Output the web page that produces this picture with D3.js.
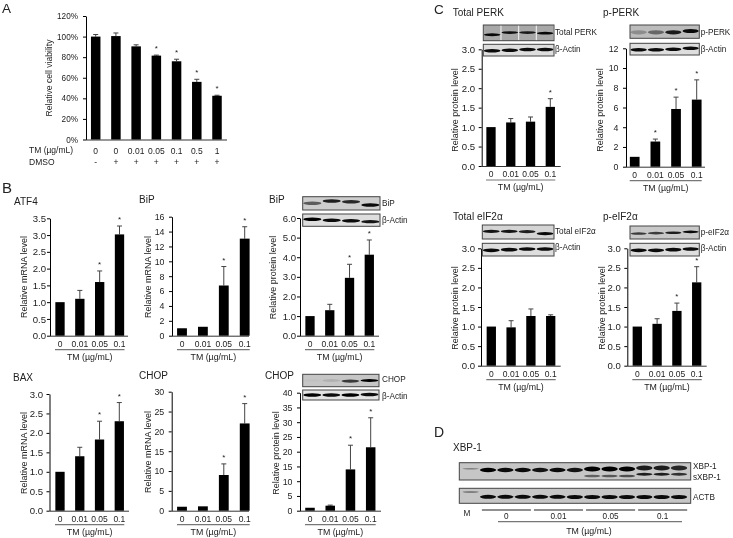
<!DOCTYPE html>
<html><head><meta charset="utf-8">
<script src="https://cdn.jsdelivr.net/npm/d3@7/dist/d3.min.js"></script>
<style>
html,body{margin:0;padding:0;background:#fff}
svg{display:block;filter:blur(0.35px)}
text{font-family:"Liberation Sans",Arial,sans-serif;fill:#222}
</style></head><body><svg id="c" width="733" height="538"></svg>
<script>
// ---- categories / ticks
const doseLabels = ["0","0.01","0.05","0.1"];
const viabilityLabels = ["0","0","0.01","0.05","0.1","0.5","1"];
const dmsoLabels = ["-","+","+","+","+","+","+"];
const pctTicks = [0,20,40,60,80,100,120];
const ticksAtf4 = [0,0.5,1,1.5,2,2.5,3,3.5];
const ticks16 = [0,2,4,6,8,10,12,14,16];
const ticks6 = [0,1,2,3,4,5,6];
const ticks3 = [0,0.5,1,1.5,2,2.5,3];
const ticks30 = [0,5,10,15,20,25,30];
const ticks40 = [0,5,10,15,20,25,30,35,40];
const ticks12 = [0,2,4,6,8,10,12];
// ---- values (bar, top of error bar)
const viabilityVal = [100,100.5,90.5,81.5,76,56,42.5];
const viabilityErr = [102,103.5,92,82,78,58.5,43];
const atf4Val = [1,1.1,1.6,3.02];        const atf4Err = [1,1.35,1.93,3.27];
const bipMVal = [1,1.2,6.75,13.05];      const bipMErr = [1,1.2,9.3,14.65];
const bipPVal = [1,1.3,2.95,4.13];       const bipPErr = [1,1.6,3.64,4.88];
const baxVal = [1,1.4,1.83,2.3];         const baxErr = [1,1.63,2.3,2.78];
const chopMVal = [1,1.1,9,22];           const chopMErr = [1,1.1,11.8,27];
const chopPVal = [1,1.7,14,21.5];        const chopPErr = [1,1.9,22.2,31.5];
const perkVal = [1,1.12,1.14,1.52];      const perkErr = [1,1.22,1.26,1.73];
const pPerkVal = [1,2.55,5.85,6.8];      const pPerkErr = [1,2.8,7.05,8.8];
const eifVal = [1,0.98,1.27,1.27];       const eifErr = [1,1.15,1.45,1.3];
const pEifVal = [1,1.07,1.4,2.13];       const pEifErr = [1,1.2,1.6,2.53];
// ---- blot band strengths per lane
const bipBlot = [0.55,0.85,0.8,0.95];    const bipActin = [1,0.95,0.95,0.9];
const chopBlot = [0.02,0.1,0.7,1];       const chopActin = [1,0.95,1,0.95];
const perkBlot = [0.95,0.9,0.85,0.95];   const perkActin = [0.95,0.95,0.95,0.95];
const pPerkBlot = [0.25,0.45,0.85,0.95]; const pPerkActin = [0.95,0.95,0.95,0.95];
const eifBlot = [0.9,0.9,0.85,0.95];     const eifActin = [0.95,0.95,0.95,0.95];
const pEifBlot = [0.7,0.7,0.85,0.95];    const pEifActin = [0.95,0.95,0.95,0.95];
const xbpUpper = [0.35,1,0.95,0.95,0.9,0.95,0.9,1,1,1,0.85,0.85,0.8];
const xbpLower = [0,0,0,0,0,0,0,0.5,0.55,0.6,0.85,0.85,0.75];
const actbBand = [0.35,0.95,0.95,0.95,0.95,0.95,0.95,0.95,0.95,0.95,0.95,0.95,0.95];
const ladderLabels = ["M","","","","","","","","","","","",""];
const xbpGroups = ["0","0.01","0.05","0.1"];

// ---- layout (separate from data)
const panels = [
 {name:"ATF4",nx:14,ny:205,val:atf4Val,err:atf4Err,ticks:ticksAtf4,fmt:".1f",pad:1,x0:50,x1:128,c0:60,c1:119.5,top:218.3,bot:335.7,tx:24,ty:277,ylab:"Relative mRNA level",stars:[2,3]},
 {name:"BiP",nx:139,ny:203,val:bipMVal,err:bipMErr,ticks:ticks16,fmt:"d",pad:4.5,x0:172,x1:249,c0:182,c1:244.7,top:216.7,bot:335.7,tx:148,ty:277,ylab:"Relative mRNA level",stars:[2,3]},
 {name:"BiP",nx:269,ny:203,val:bipPVal,err:bipPErr,ticks:ticks6,fmt:".1f",pad:1,x0:300,x1:379,c0:310,c1:369.3,top:218,bot:335.7,tx:273,ty:277.5,ylab:"Relative protein level",stars:[2,3],
  blots:[{b:bipBlot,x:302.7,y:196.7,w:77.3,h:13.3,lab:"BiP",lx:382,ly:203,bg:"#cdcdcd",off:[.5,.32,.38,.62],thick:3},{b:bipActin,x:302.7,y:214,w:77.3,h:12.3,lab:"β-Actin",lx:382,ly:220,bg:"#dedede",off:[.42,.5,.55,.62],thick:3}]},
 {name:"BAX",nx:13,ny:381,val:baxVal,err:baxErr,ticks:ticks3,fmt:".1f",pad:3.5,x0:49.5,x1:129,c0:60,c1:119.3,top:394,bot:510.7,tx:24,ty:453,ylab:"Relative mRNA level",stars:[2,3]},
 {name:"CHOP",nx:139,ny:379,val:chopMVal,err:chopMErr,ticks:ticks30,fmt:"d",pad:4.5,x0:171.7,x1:249,c0:182,c1:244.7,top:391.7,bot:510.7,tx:148,ty:452,ylab:"Relative mRNA level",stars:[2,3]},
 {name:"CHOP",nx:265,ny:379,val:chopPVal,err:chopPErr,ticks:ticks40,fmt:"d",pad:4.5,x0:300,x1:381,c0:310,c1:370.7,top:392.7,bot:510.7,tx:276,ty:453,ylab:"Relative protein level",stars:[2,3],
  blots:[{b:chopBlot,x:302.7,y:374.3,w:76.3,h:12.4,lab:"CHOP",lx:382,ly:379,bg:"#c6c6c6",off:[.5,.5,.55,.5],thick:2.6},{b:chopActin,x:302.7,y:390,w:76.3,h:10,lab:"β-Actin",lx:382,ly:396,bg:"#e4e4e4",off:[.5,.5,.5,.45],thick:3}]},
 {name:"Total PERK",nx:452.7,ny:15.7,val:perkVal,err:perkErr,ticks:ticks3,fmt:".1f",pad:3.5,x0:481.7,x1:560.7,c0:491,c1:550.3,top:49.3,bot:166,tx:455,ty:110,ylab:"Relative protein level",stars:[3],
  blots:[{b:perkBlot,x:483.3,y:25,w:70.7,h:15.7,lab:"Total PERK",lx:555,ly:32,bg:"#a8a8a8",gap:true,off:[.62,.48,.48,.52],thick:2.4},{b:perkActin,x:483.3,y:44.3,w:70.7,h:11.7,lab:"β-Actin",lx:555,ly:49,bg:"#dedede",off:[.55,.5,.45,.45],thick:3}]},
 {name:"p-PERK",nx:603,ny:15.7,val:pPerkVal,err:pPerkErr,ticks:ticks12,fmt:"d",pad:4.5,x0:626,x1:705,c0:634.7,c1:696.7,top:48.3,bot:166.7,tx:600,ty:110,ylab:"Relative protein level",stars:[1,2,3],
  blots:[{b:pPerkBlot,x:630,y:25,w:69.3,h:13.3,lab:"p-PERK",lx:700.7,ly:32,bg:"#bcbcbc",off:[.55,.55,.55,.45],thick:3.6},{b:pPerkActin,x:630,y:43.3,w:69.3,h:11.7,lab:"β-Actin",lx:700.7,ly:49,bg:"#dedede",off:[.55,.55,.5,.42],thick:3}]},
 {name:"Total eIF2α",nx:453,ny:220,val:eifVal,err:eifErr,ticks:ticks3,fmt:".1f",pad:3,x0:481,x1:560.7,c0:491.3,c1:550.7,top:248.3,bot:365.7,tx:455,ty:308,ylab:"Relative protein level",stars:[],
  blots:[{b:eifBlot,x:482.3,y:225,w:71.7,h:14,lab:"Total eIF2α",lx:555,ly:230.7,bg:"#d4d4d4",off:[.45,.45,.48,.62],thick:2.8},{b:eifActin,x:482.3,y:243.3,w:71.7,h:12.7,lab:"β-Actin",lx:555,ly:246.7,bg:"#dedede",off:[.55,.5,.45,.45],thick:3.2}]},
 {name:"p-eIF2α",nx:603,ny:220,val:pEifVal,err:pEifErr,ticks:ticks3,fmt:".1f",pad:3.5,x0:627.3,x1:706.7,c0:637.3,c1:696.7,top:248.3,bot:365.7,tx:601.7,ty:308,ylab:"Relative protein level",stars:[2,3],
  blots:[{b:pEifBlot,x:630,y:226,w:69.3,h:13,lab:"p-eIF2α",lx:700.7,ly:232,bg:"#c8c8c8",off:[.58,.55,.52,.45],thick:2.2},{b:pEifActin,x:630,y:243.3,w:69.3,h:12.7,lab:"β-Actin",lx:700.7,ly:248,bg:"#dedede",off:[.55,.55,.5,.45],thick:3.2}]}
];

const svg = d3.select("#c");
const defs = svg.append("defs");
defs.append("filter").attr("id","soft").attr("x","-30%").attr("y","-100%").attr("width","160%").attr("height","300%")
  .append("feGaussianBlur").attr("stdDeviation",0.7);

function text(g,x,y,s,size,anchor){
  return g.append("text").attr("x",x).attr("y",y).attr("font-size",size).attr("text-anchor",anchor||"start").text(s);
}
function bandScale(labels,c0,c1){
  const step=(c1-c0)/(labels.length-1);
  return d3.scaleBand().domain(d3.range(labels.length)).range([c0-step/2,c1+step/2]).paddingInner(0.53).paddingOuter(0.265);
}
function chart(g,p,labels,yMax,tickFmt,padX,opts){
  const x=bandScale(labels,p.c0,p.c1);
  const y=d3.scaleLinear().domain([0,yMax]).range([p.bot,p.top]);
  const ya=g.append("g").attr("transform",`translate(${p.x0},0)`)
    .call(d3.axisLeft(y).tickValues(p.ticks).tickFormat(tickFmt).tickSize(3).tickSizeOuter(0).tickPadding(opts.pad));
  ya.selectAll("text").attr("font-size",opts.ySize).style("font-family",'"Liberation Sans"').attr("fill","#222");
  const xa=g.append("g").attr("transform",`translate(0,${p.bot})`)
    .call(d3.axisBottom(x).tickFormat(i=>labels[i]).tickSize(0).tickPadding(padX));
  xa.select(".domain").remove();
  xa.selectAll("text").attr("font-size",8.5).style("font-family",'"Liberation Sans"').attr("fill","#222");
  g.append("line").attr("x1",p.x0).attr("x2",p.x1).attr("y1",p.bot+.5).attr("y2",p.bot+.5).attr("stroke","#333");
  const idx=d3.range(labels.length);
  const cx=i=>x(i)+x.bandwidth()/2;
  g.selectAll(".err").data(idx.filter(i=>p.err[i]>p.val[i])).join("path").attr("class","err")
    .attr("d",i=>`M${cx(i)},${y(p.val[i])}V${y(p.err[i])}M${cx(i)-2.5},${y(p.err[i])}H${cx(i)+2.5}`)
    .attr("stroke","#444").attr("fill","none");
  g.selectAll(".bar").data(idx).join("rect").attr("class","bar")
    .attr("x",i=>x(i)).attr("width",x.bandwidth()).attr("y",i=>y(p.val[i])).attr("height",i=>p.bot-y(p.val[i])).attr("fill","#000");
  g.selectAll(".star").data(p.stars).join("text").attr("class","star")
    .attr("x",cx).attr("y",i=>y(p.err[i])-4).attr("text-anchor","middle").attr("font-size",8).text("*");
  text(g,0,0,p.ylab,opts.tSize,"middle").attr("transform",`translate(${p.tx},${p.ty}) rotate(-90)`).attr("dy",".35em");
  return {x,y,cx};
}
function blot(g,b,n){
  const x=d3.scaleBand().domain(d3.range(n)).range([b.x,b.x+b.w]).paddingInner(0.06).paddingOuter(0.03);
  g.append("rect").attr("x",b.x).attr("y",b.y).attr("width",b.w).attr("height",b.h).attr("fill",b.gap?"#f2f2f2":b.bg);
  if(b.gap){
    g.selectAll(".lane").data(d3.range(n)).join("rect").attr("x",i=>x(i)).attr("y",b.y).attr("width",x.bandwidth()).attr("height",b.h).attr("fill",b.bg);
  }
  b.b.forEach((v,i)=>{
    g.append("ellipse").attr("cx",x(i)+x.bandwidth()/2).attr("cy",b.y+b.h*b.off[i])
      .attr("rx",x.bandwidth()*.5).attr("ry",b.thick*.58).attr("fill","#050505").attr("opacity",v).attr("filter","url(#soft)");
  });
  g.append("rect").attr("x",b.x).attr("y",b.y).attr("width",b.w).attr("height",b.h).attr("fill","none").attr("stroke","#444");
  text(g,b.lx,b.ly,b.lab,8.2).attr("dy",".35em");
}

// Panel A
const gA=svg.append("g");
const pA={val:viabilityVal,err:viabilityErr,ticks:pctTicks,x0:86,x1:227,c0:95.7,c1:217,top:16,bot:139.5,tx:49,ty:78,ylab:"Relative cell viability",stars:[3,4,5,6]};
const cA=chart(gA,pA,viabilityLabels,120,d=>d+"%",8,{pad:5,ySize:8.2,tSize:8.6});
text(gA,29,153,"TM  (µg/mL)",8.5);
text(gA,29,165,"DMSO",8.5);
gA.selectAll(".dmso").data(dmsoLabels).join("text").attr("class","dmso")
  .attr("x",(d,i)=>cA.cx(i)).attr("y",165).attr("text-anchor","middle").attr("font-size",8.5).text(d=>d);

// Panels B, C
panels.forEach(p=>{
  const g=svg.append("g");
  const fmt=d3.format(p.fmt);
  chart(g,p,doseLabels,d3.max(p.ticks),fmt,5,{pad:p.pad,ySize:p.fmt==="d"?8.8:9.6,tSize:9});
  text(g,p.nx,p.ny,p.name,10);
  const a=p.c0-5,b=p.c1+5;
  g.append("line").attr("x1",a).attr("x2",b).attr("y1",p.bot+14).attr("y2",p.bot+14).attr("stroke","#777").attr("stroke-width",1.2);
  text(g,(a+b)/2,p.bot+24,"TM (µg/mL)",8.8,"middle");
  (p.blots||[]).forEach(bl=>blot(g,bl,4));
});

// Panel D
const gD=svg.append("g");
text(gD,453,450.7,"XBP-1",10);
const laneX=d3.scaleBand().domain(d3.range(xbpUpper.length)).range([462,687.7]).paddingInner(0.06).paddingOuter(0.03);
const boxes=[{y:462.7,h:17.3},{y:488.3,h:15}];
boxes.forEach(b=>gD.append("rect").attr("x",459.3).attr("y",b.y).attr("width",231.4).attr("height",b.h).attr("fill","#c6c6c6"));
function lanes(arr,yFn,ryFn){
  gD.selectAll(null).data(arr).join("ellipse")
    .attr("cx",(d,i)=>laneX(i)+laneX.bandwidth()/2).attr("cy",(d,i)=>yFn(i))
    .attr("rx",laneX.bandwidth()*.5).attr("ry",(d,i)=>ryFn(i)).attr("fill","#030303")
    .attr("opacity",d=>d).attr("filter","url(#soft)");
}
lanes(xbpUpper,i=>i===0?468.8:(i>9?468:(i>6?469:470)),i=>i===0?.7:(i>6?2.6:2.2));
lanes(xbpLower,i=>i<10?476:474.3,i=>i<10?1.3:1.5);
lanes(actbBand,i=>i===0?492:(i<6?496.8:497),i=>i===0?.9:2);
boxes.forEach(b=>gD.append("rect").attr("x",459.3).attr("y",b.y).attr("width",231.4).attr("height",b.h).attr("fill","none").attr("stroke","#444"));
text(gD,693,466,"XBP-1",8.2).attr("dy",".35em");
text(gD,693,477.5,"sXBP-1",8.2).attr("dy",".35em");
text(gD,693,497,"ACTB",8.2).attr("dy",".35em");
gD.selectAll(".m").data(ladderLabels.filter(d=>d)).join("text").attr("x",467).attr("y",516).attr("text-anchor","middle").attr("font-size",8.2).text(d=>d);
// replicate brackets: three lanes per dose
const tri=i=>[laneX(1+i*3)+2,laneX(3+i*3)+laneX.bandwidth()];
xbpGroups.forEach((d,i)=>{
  const [a,b]=tri(i);
  gD.append("line").attr("x1",a).attr("x2",b).attr("y1",510).attr("y2",510).attr("stroke","#222");
  text(gD,(a+b)/2,519,d,8.2,"middle");
});
gD.append("line").attr("x1",498).attr("x2",682).attr("y1",521.7).attr("y2",521.7).attr("stroke","#777").attr("stroke-width",1.2);
text(gD,589,533.5,"TM (µg/mL)",8.8,"middle");

// Panel letters
[["A",2,13,13.5],["B",2,193,15],["C",434,13.5,13.5],["D",434,437,14]].forEach(d=>text(svg,d[1],d[2],d[0],d[3]));
</script></body></html>
